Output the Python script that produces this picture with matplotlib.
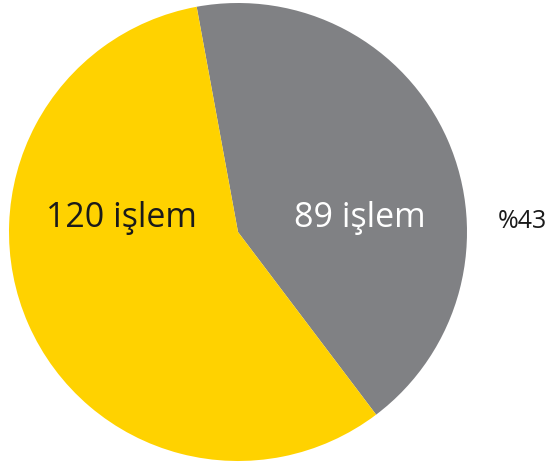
import matplotlib.pyplot as plt

labels = ["89 işlem", "120 işlem"]
values = [89, 120]
colors = ["#808184", "#FFD200"]
text_colors = ["white", "#1a1a1a"]
pct_label = "%43"

fig = plt.figure(figsize=(5.5, 4.65), dpi=100)
ax = fig.add_axes([0, 0, 1, 1])

# pie centre at about (238, 232) px, radius 229 px
r = 229.0
ax.pie(values, colors=colors, startangle=100.4, counterclock=False,
       radius=1, center=(0, 0), wedgeprops=dict(linewidth=0))
ax.set_xlim(-238 / r, 312 / r)
ax.set_ylim(-233 / r, 232 / r)
ax.set_aspect("auto")
ax.axis("off")

ax.text((360 - 238) / r, (232 - 218) / r, labels[0], color=text_colors[0],
        fontsize=24.5, family="Open Sans", ha="center", va="center")
ax.text((121 - 238) / r, (232 - 218) / r, labels[1], color=text_colors[1],
        fontsize=24.5, family="Open Sans", ha="center", va="center")
ax.text((522 - 238) / r, (232 - 221) / r, pct_label, color="#1a1a1a",
        fontsize=18, family="Open Sans", ha="center", va="center")

fig.savefig("out.png", dpi=100)
